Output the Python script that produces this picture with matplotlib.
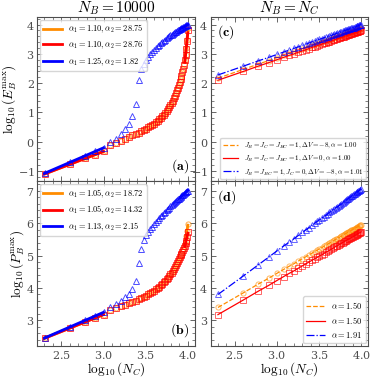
import numpy as np
import matplotlib.pyplot as plt
from matplotlib.ticker import MultipleLocator

plt.rcParams['font.family'] = 'serif'
plt.rcParams['font.serif'] = ['DejaVu Serif']
plt.rcParams['mathtext.fontset'] = 'cm'
plt.rcParams['axes.formatter.use_mathtext'] = True

# system sizes N_C
n_c = [200, 400, 600, 800, 1000, 1200, 1400, 1600, 1800, 2000,
       2200, 2400, 2600, 2800, 3000, 3200, 3400, 3600, 3800, 4000,
       4200, 4400, 4600, 4800, 5000, 5200, 5400, 5600, 5800, 6000,
       6200, 6400, 6600, 6800, 7000, 7200, 7400, 7600, 7800, 8000,
       8200, 8400, 8600, 8800, 9000, 9200, 9400, 9600, 9800, 10000]

# (a) log10(E_B^max), N_B = 10000
a_orange = [-1.10, -0.77, -0.57, -0.44, -0.33, -0.12, -0.05, 0.02, 0.09, 0.16,
            0.22, 0.27, 0.31, 0.36, 0.40, 0.44, 0.49, 0.53, 0.57, 0.62,
            0.67, 0.72, 0.77, 0.82, 0.88, 0.93, 0.99, 1.05, 1.11, 1.18,
            1.25, 1.32, 1.40, 1.48, 1.57, 1.66, 1.75, 1.85, 1.95, 2.05,
            2.15, 2.26, 2.38, 2.50, 2.64, 2.79, 2.97, 3.19, 3.48, 3.88]
a_red = [-1.10, -0.77, -0.57, -0.44, -0.33, -0.12, -0.05, 0.02, 0.09, 0.16,
         0.22, 0.27, 0.31, 0.36, 0.40, 0.44, 0.49, 0.53, 0.57, 0.62,
         0.67, 0.72, 0.77, 0.82, 0.88, 0.93, 0.99, 1.05, 1.11, 1.18,
         1.25, 1.32, 1.39, 1.48, 1.57, 1.66, 1.75, 1.85, 1.95, 2.05,
         2.15, 2.26, 2.38, 2.50, 2.63, 2.78, 2.95, 3.16, 3.43, 3.80]
a_blue = [-1.08, -0.70, -0.48, -0.33, -0.21, 0.00, 0.11, 0.28, 0.45, 0.62,
          0.87, 1.30, 2.10, 2.49, 2.66, 2.80, 2.90, 2.99, 3.07, 3.14,
          3.20, 3.26, 3.31, 3.36, 3.41, 3.45, 3.49, 3.53, 3.56, 3.60,
          3.63, 3.66, 3.69, 3.71, 3.74, 3.76, 3.78, 3.80, 3.82, 3.84,
          3.86, 3.88, 3.90, 3.91, 3.93, 3.95, 3.96, 3.97, 3.98, 3.99]

# (b) log10(P_B^max), N_B = 10000
b_orange = [2.45, 2.77, 2.95, 3.08, 3.18, 3.33, 3.38, 3.43, 3.48, 3.53,
            3.57, 3.61, 3.65, 3.69, 3.72, 3.76, 3.80, 3.84, 3.88, 3.92,
            3.96, 4.00, 4.04, 4.08, 4.13, 4.17, 4.22, 4.27, 4.32, 4.37,
            4.42, 4.47, 4.53, 4.59, 4.65, 4.71, 4.77, 4.83, 4.90, 4.96,
            5.02, 5.08, 5.14, 5.21, 5.28, 5.36, 5.46, 5.59, 5.76, 5.98]
b_red = [2.45, 2.77, 2.95, 3.08, 3.18, 3.33, 3.38, 3.43, 3.48, 3.53,
         3.57, 3.61, 3.65, 3.69, 3.72, 3.76, 3.80, 3.84, 3.88, 3.92,
         3.96, 4.00, 4.04, 4.08, 4.13, 4.17, 4.22, 4.27, 4.32, 4.37,
         4.42, 4.47, 4.53, 4.59, 4.65, 4.71, 4.77, 4.83, 4.89, 4.95,
         5.01, 5.06, 5.12, 5.18, 5.24, 5.30, 5.37, 5.46, 5.57, 5.72]
b_blue = [2.46, 2.80, 3.00, 3.14, 3.25, 3.40, 3.51, 3.60, 3.72, 3.83,
          3.98, 4.22, 4.76, 5.21, 5.48, 5.62, 5.72, 5.81, 5.89, 5.96,
          6.03, 6.09, 6.15, 6.21, 6.26, 6.31, 6.35, 6.39, 6.43, 6.47,
          6.51, 6.54, 6.58, 6.61, 6.64, 6.67, 6.70, 6.73, 6.75, 6.78,
          6.80, 6.83, 6.85, 6.87, 6.90, 6.92, 6.94, 6.96, 6.98, 7.00]

# (c) log10(E_B^max), N_B = N_C
c_orange = [2.17, 2.47, 2.65, 2.77, 2.87, 2.95, 3.02, 3.07, 3.13, 3.17,
            3.21, 3.25, 3.29, 3.32, 3.35, 3.38, 3.40, 3.43, 3.45, 3.47,
            3.49, 3.51, 3.53, 3.55, 3.57, 3.59, 3.60, 3.62, 3.63, 3.65,
            3.66, 3.68, 3.69, 3.70, 3.72, 3.73, 3.74, 3.75, 3.76, 3.77,
            3.78, 3.79, 3.80, 3.81, 3.82, 3.83, 3.84, 3.85, 3.86, 3.87]
c_red = [2.10, 2.40, 2.58, 2.70, 2.80, 2.88, 2.95, 3.00, 3.06, 3.10,
         3.14, 3.18, 3.22, 3.25, 3.28, 3.31, 3.33, 3.36, 3.38, 3.40,
         3.42, 3.44, 3.46, 3.48, 3.50, 3.52, 3.53, 3.55, 3.56, 3.58,
         3.59, 3.61, 3.62, 3.63, 3.65, 3.66, 3.67, 3.68, 3.69, 3.70,
         3.71, 3.72, 3.73, 3.74, 3.75, 3.76, 3.77, 3.78, 3.79, 3.80]
c_blue = [2.28, 2.58, 2.76, 2.88, 2.98, 3.06, 3.13, 3.19, 3.24, 3.29,
          3.33, 3.37, 3.41, 3.44, 3.47, 3.50, 3.52, 3.55, 3.57, 3.59,
          3.61, 3.63, 3.65, 3.67, 3.69, 3.71, 3.72, 3.74, 3.75, 3.77,
          3.78, 3.80, 3.81, 3.82, 3.84, 3.85, 3.86, 3.87, 3.88, 3.89,
          3.90, 3.91, 3.92, 3.94, 3.95, 3.96, 3.97, 3.98, 3.99, 4.00]

# (d) log10(P_B^max), N_B = N_C
d_orange = [3.40, 3.85, 4.12, 4.30, 4.45, 4.57, 4.67, 4.75, 4.83, 4.90,
            4.96, 5.02, 5.07, 5.12, 5.16, 5.21, 5.24, 5.28, 5.32, 5.35,
            5.38, 5.41, 5.44, 5.47, 5.50, 5.52, 5.55, 5.57, 5.59, 5.62,
            5.64, 5.66, 5.68, 5.70, 5.72, 5.73, 5.75, 5.77, 5.79, 5.80,
            5.82, 5.83, 5.85, 5.86, 5.88, 5.89, 5.91, 5.92, 5.93, 5.95]
d_red = [3.18, 3.63, 3.90, 4.08, 4.23, 4.35, 4.45, 4.53, 4.61, 4.68,
         4.74, 4.80, 4.85, 4.90, 4.94, 4.99, 5.02, 5.06, 5.10, 5.13,
         5.16, 5.19, 5.22, 5.25, 5.28, 5.30, 5.33, 5.35, 5.37, 5.40,
         5.42, 5.44, 5.46, 5.48, 5.50, 5.51, 5.53, 5.55, 5.57, 5.58,
         5.60, 5.61, 5.63, 5.64, 5.66, 5.67, 5.69, 5.70, 5.71, 5.73]
d_blue = [3.80, 4.37, 4.71, 4.95, 5.14, 5.29, 5.41, 5.52, 5.62, 5.71,
          5.79, 5.86, 5.93, 5.99, 6.05, 6.10, 6.15, 6.20, 6.24, 6.28,
          6.33, 6.36, 6.40, 6.44, 6.47, 6.50, 6.53, 6.56, 6.59, 6.62,
          6.65, 6.67, 6.70, 6.73, 6.75, 6.77, 6.79, 6.82, 6.84, 6.86,
          6.88, 6.90, 6.92, 6.94, 6.96, 6.98, 6.99, 7.01, 7.03, 7.05]

labels_a = [r'$\alpha_1 =1.10, \alpha_2 =28.75$', r'$\alpha_1 =1.10, \alpha_2 =28.76$',
            r'$\alpha_1 =1.25, \alpha_2 =1.82$']
labels_b = [r'$\alpha_1 =1.05, \alpha_2 =18.72$', r'$\alpha_1 =1.05, \alpha_2 =14.32$',
            r'$\alpha_1 =1.13, \alpha_2 =2.15$']
labels_c = [r'$J_B = J_C = J_{BC} = 1, \Delta V = -8, \alpha =1.00$',
            r'$J_B = J_C = J_{BC} = 1, \Delta V = 0, \alpha =1.00$',
            r'$J_B = J_{BC} = 1, J_C = 0, \Delta V = -8, \alpha =1.01$']
labels_d = [r'$\alpha =1.50$', r'$\alpha =1.50$', r'$\alpha =1.91$']

colors = ['darkorange', 'red', 'blue']
markers = ['o', 's', '^']
styles = ['--', '-', '-.']

x = np.log10(n_c)


def fit_line(ax, xs, ys, color, label=None):
    p = np.polyfit(xs, ys, 1)
    ax.plot(xs[[0, -1]], np.polyval(p, xs[[0, -1]]), color=color, lw=2, label=label)


def left_panel(ax, series, labels, n_end):
    for y, c, m, lab in zip(series, colors, markers, labels):
        y = np.array(y)
        ax.plot(x, y, m, mfc='none', mec=c, ms=3.7, mew=0.7, alpha=0.7)
        fit_line(ax, x[:5], y[:5], c, lab)
        n = n_end[c]
        fit_line(ax, x[-n:], y[-n:], c)
    ax.legend(loc='upper left', fontsize=6, handlelength=2.2, borderaxespad=0.3)


def right_panel(ax, series, labels, fs):
    for y, c, m, ls, lab in zip(series, colors, markers, styles, labels):
        ax.plot(x, y, m, mfc='none', mec=c, ms=3.7, mew=0.7, alpha=0.6)
        ax.plot(x, y, ls, color=c, lw=0.9, label=lab)
    ax.legend(loc='lower right', fontsize=fs, handlelength=2.2, borderaxespad=0.3)


fig, axes = plt.subplots(2, 2, sharex=True, sharey='row', figsize=(3.74, 3.80), dpi=100)
ax_a, ax_c = axes[0]
ax_b, ax_d = axes[1]

left_panel(ax_a, [a_orange, a_red, a_blue], labels_a, {'darkorange': 5, 'red': 5, 'blue': 10})
left_panel(ax_b, [b_orange, b_red, b_blue], labels_b, {'darkorange': 5, 'red': 5, 'blue': 10})
right_panel(ax_c, [c_orange, c_red, c_blue], labels_c, 5)
right_panel(ax_d, [d_orange, d_red, d_blue], labels_d, 6)

ax_a.set_title(r'$N_B = 10000$', fontsize=11, pad=3)
ax_c.set_title(r'$N_B = N_C$', fontsize=11, pad=3)
ax_a.set_ylabel(r'$\log_{10}(E_B^{\max})$', fontsize=9.5, labelpad=0)
ax_b.set_ylabel(r'$\log_{10}(P_B^{\max})$', fontsize=9.5, labelpad=0)
ax_b.set_xlabel(r'$\log_{10}(N_C)$', fontsize=9.5, labelpad=0)
ax_d.set_xlabel(r'$\log_{10}(N_C)$', fontsize=9.5, labelpad=0)

ax_a.text(0.96, 0.04, r'$\mathbf{(a)}$', transform=ax_a.transAxes, ha='right', va='bottom', fontsize=10)
ax_b.text(0.96, 0.04, r'$\mathbf{(b)}$', transform=ax_b.transAxes, ha='right', va='bottom', fontsize=10)
ax_c.text(0.04, 0.96, r'$\mathbf{(c)}$', transform=ax_c.transAxes, ha='left', va='top', fontsize=10)
ax_d.text(0.04, 0.96, r'$\mathbf{(d)}$', transform=ax_d.transAxes, ha='left', va='top', fontsize=10)

for ax in axes.flat:
    ax.xaxis.set_major_locator(MultipleLocator(0.5))
    ax.xaxis.set_minor_locator(MultipleLocator(0.1))
    ax.yaxis.set_major_locator(MultipleLocator(1))
    ax.yaxis.set_minor_locator(MultipleLocator(0.2))
    ax.tick_params(which='both', direction='in', top=True, right=True, labelsize=8, colors='0.3',
                   labelcolor='0.3', pad=2)
    ax.tick_params(which='major', length=3.5, width=0.6)
    ax.tick_params(which='minor', length=2, width=0.5)
    for s in ax.spines.values():
        s.set_color('0.3')
        s.set_linewidth(0.8)
for ax in [ax_c, ax_d]:
    ax.yaxis.set_tick_params(labelleft=True)

fig.subplots_adjust(left=0.1, right=0.985, top=0.955, bottom=0.09, hspace=0, wspace=0.1)
fig.savefig('out.png', dpi=100)
